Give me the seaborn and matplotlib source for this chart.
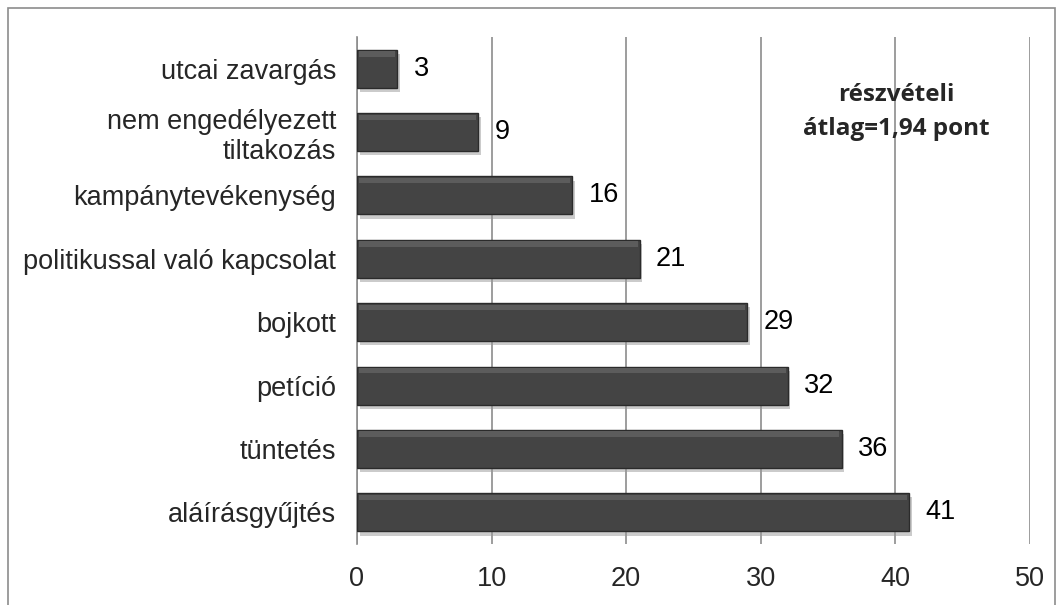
import matplotlib.pyplot as plt
import matplotlib.patheffects as pe
import seaborn as sns
import pandas as pd

# Data
categories = ['utcai zavargás', 'nem engedélyezett\ntiltakozás', 'kampánytevékenység',
              'politikussal való kapcsolat', 'bojkott', 'petíció', 'tüntetés', 'aláírásgyűjtés']
values = [3, 9, 16, 21, 29, 32, 36, 41]
x_ticks = [0, 10, 20, 30, 40, 50]
note_text = 'részvételi\nátlag=1,94 pont'

df = pd.DataFrame({'category': categories, 'value': values})

sns.set_theme(style='white')
plt.rcParams['font.family'] = ['Liberation Sans', 'DejaVu Sans']

fig = plt.figure(figsize=(10.64, 6.05), dpi=100)
ax = fig.add_axes([0.3355, 0.1008, 0.6325, 0.838])

ax = sns.barplot(data=df, x='value', y='category', orient='h', color='#444444',
                 width=0.6, edgecolor='#2b2b2b', linewidth=1.0, ax=ax, zorder=3)
for p in list(ax.patches):
    p.set_path_effects([pe.SimplePatchShadow(offset=(2, -3), shadow_rgbFace='#999999', alpha=0.5),
                        pe.Normal()])
    # soft bevel along the top edge
    x0, y0 = p.get_x(), p.get_y()
    w, h = p.get_width(), p.get_height()
    ax.add_patch(plt.Rectangle((x0 + 0.15, y0 + h * 0.04), w - 0.3, h * 0.14,
                               facecolor='#5c5c5c', edgecolor='none', zorder=4))

# Value labels
for i, v in enumerate(values):
    ax.text(v + 1.2, i, str(v), ha='left', va='center', fontsize=19.5, color='black')

ax.set_xlim(0, 50)
ax.set_ylim(7.5, -0.5)
ax.set_xticks(x_ticks)
ax.set_xlabel('')
ax.set_ylabel('')
ax.tick_params(axis='x', labelsize=19.5, pad=16, length=0)
ax.tick_params(axis='y', labelsize=19.5, pad=15, length=0)
ax.xaxis.grid(True, color='#8c8c8c', linewidth=1.2, zorder=0)
ax.set_axisbelow(True)
for s in ['top', 'right', 'bottom']:
    ax.spines[s].set_visible(False)
ax.spines['left'].set_color('#8c8c8c')
ax.spines['left'].set_linewidth(1.2)

# Annotation
ax.text(40.1, 0.68, note_text, ha='center', va='center', fontsize=17.5,
        fontweight='bold', linespacing=1.55, family=['Open Sans', 'DejaVu Sans'])

# Outer frame of the chart
frame = plt.Rectangle((0.0075, -0.05), 0.984, 1.037, transform=fig.transFigure,
                      fill=False, edgecolor='#8c8c8c', linewidth=1.2)
fig.patches.append(frame)

plt.savefig('out.png', dpi=100)
plt.close()
